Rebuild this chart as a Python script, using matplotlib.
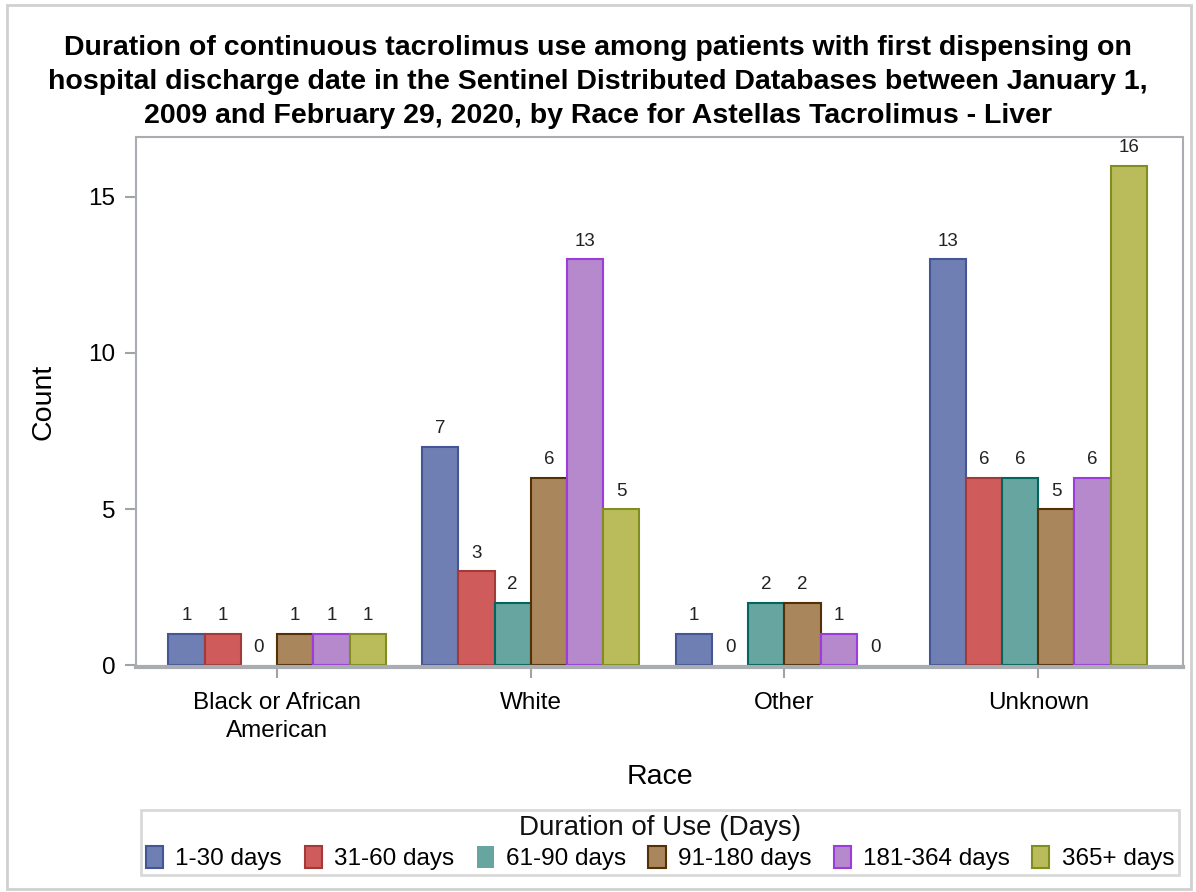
import matplotlib.pyplot as plt
import numpy as np

plt.rcParams['font.family'] = ['Liberation Sans', 'DejaVu Sans']

# data
races = ['Black or African\nAmerican', 'White', 'Other', 'Unknown']
durations = ['1-30 days', '31-60 days', '61-90 days', '91-180 days', '181-364 days', '365+ days']
counts = [
    [1, 7, 1, 13],    # 1-30 days
    [1, 3, 0, 6],     # 31-60 days
    [0, 2, 2, 6],     # 61-90 days
    [1, 6, 2, 5],     # 91-180 days
    [1, 13, 1, 6],    # 181-364 days
    [1, 5, 0, 16],    # 365+ days
]
fills = ['#6F7EB3', '#D05B5B', '#66A5A0', '#A9865B', '#B689CD', '#BABC5C']
edges = ['#445694', '#A23A3A', '#01665E', '#543005', '#9D3CDB', '#7F8E1F']

fig = plt.figure(figsize=(11.96, 8.92), dpi=100)
ax = fig.add_axes([0.1137, 0.2522, 0.8755, 0.5942])

x = np.arange(len(races))
w = 0.1428
for i, (lab, vals) in enumerate(zip(durations, counts)):
    pos = x + (i - 2.5) * w
    lw = [1.5 if v > 0 else 0 for v in vals]
    ax.bar(pos, vals, width=w, color=fills[i], edgecolor=edges[i],
           linewidth=lw, label=lab, zorder=2)
    for p, v in zip(pos, vals):
        ax.text(p, v + 0.3, str(v), ha='center', va='bottom',
                fontsize=13.5, color='#222222')

ax.set_xlim(-0.556, 3.571)
ax.set_ylim(-0.064, 16.92)
ax.set_xticks(x)
ax.set_xticklabels(races, fontsize=17.5, linespacing=1.35)
ax.set_yticks([0, 5, 10, 15])
ax.tick_params(axis='y', labelsize=17.5, length=8, color='#A0A4A8', width=1.5, pad=7)
ax.tick_params(axis='x', length=8, color='#A0A4A8', width=1.5, pad=10)
for s in ax.spines.values():
    s.set_color('#A9ACB0')
    s.set_linewidth(1.5)
ax.spines['bottom'].set_linewidth(3)

ax.set_xlabel('Race', fontsize=20.5, labelpad=16)
ax.set_ylabel('Count', fontsize=20.5, labelpad=23)

fig.suptitle('Duration of continuous tacrolimus use among patients with first dispensing on\n'
             'hospital discharge date in the Sentinel Distributed Databases between January 1,\n'
             '2009 and February 29, 2020, by Race for Astellas Tacrolimus - Liver',
             fontsize=20.5, fontweight='bold', y=0.908, va='center', linespacing=1.38)

leg = fig.legend(loc='center', bbox_to_anchor=(0.552, 0.0555), ncol=6,
                 title='Duration of Use (Days)', fontsize=17.5, title_fontsize=20,
                 frameon=True, fancybox=False, handlelength=0.7, handleheight=1.0,
                 handletextpad=0.5, columnspacing=0.93, borderpad=0.2, labelspacing=0.2)
leg.get_frame().set_edgecolor('#D0D0D0')
leg.get_frame().set_linewidth(2)
leg.get_title().set_color('#111111')

# outer border
fig.patches.append(plt.Rectangle((0.006, 0.003), 0.99, 0.991, transform=fig.transFigure,
                                 fill=False, edgecolor='#D0D0D0', linewidth=2))

fig.savefig('out.png', dpi=100)
